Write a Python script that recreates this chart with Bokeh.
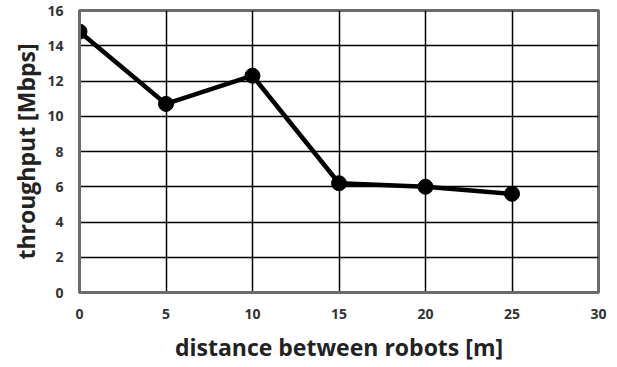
from bokeh.plotting import figure
from bokeh.embed import file_html
from bokeh.resources import INLINE
from bokeh.models import Range1d, FixedTicker

distance = [0, 5, 10, 15, 20, 25]
throughput = [14.8, 10.7, 12.3, 6.2, 6.0, 5.6]
x_ticks = [0, 5, 10, 15, 20, 25, 30]
y_ticks = [0, 2, 4, 6, 8, 10, 12, 14, 16]

p = figure(width=617, height=365, output_backend="svg", toolbar_location=None,
           x_range=Range1d(0, 30), y_range=Range1d(0, 16),
           min_border_left=79, min_border_right=19, min_border_top=10, min_border_bottom=73)

p.line(distance, throughput, line_color="black", line_width=4.5)
p.scatter(distance, throughput, size=15, fill_color="black", line_color="black")

p.outline_line_color = "#6b6b6b"
p.outline_line_width = 3

for ax in (p.xaxis[0], p.yaxis[0]):
    ax.axis_line_color = "#6b6b6b"
    ax.axis_line_width = 3
    ax.major_tick_out = 0
    ax.major_tick_in = 0
    ax.minor_tick_out = 0
    ax.minor_tick_in = 0
    ax.major_tick_line_color = None
    ax.minor_tick_line_color = None
    ax.major_label_text_font = "Open Sans"
    ax.major_label_text_font_style = "bold"
    ax.major_label_text_font_size = "14px"
    ax.major_label_text_color = "#333333"
    ax.axis_label_text_font = "Open Sans"
    ax.axis_label_text_font_style = "bold"
    ax.axis_label_text_font_size = "23px"
    ax.axis_label_text_color = "#222222"

p.xaxis.ticker = FixedTicker(ticks=x_ticks)
p.yaxis.ticker = FixedTicker(ticks=y_ticks)
p.xaxis.axis_label = "distance between robots [m]"
p.yaxis.axis_label = "throughput [Mbps]"
p.xaxis.major_label_standoff = 16
p.yaxis.major_label_standoff = 16
p.xaxis.axis_label_standoff = 9
p.yaxis.axis_label_standoff = 2

p.xgrid.ticker = FixedTicker(ticks=x_ticks)
p.ygrid.ticker = FixedTicker(ticks=y_ticks)
for g in (p.xgrid[0], p.ygrid[0]):
    g.grid_line_color = "black"
    g.grid_line_width = 1.5
    g.grid_line_alpha = 1.0

open("out.html", "w").write(file_html(p, INLINE))
